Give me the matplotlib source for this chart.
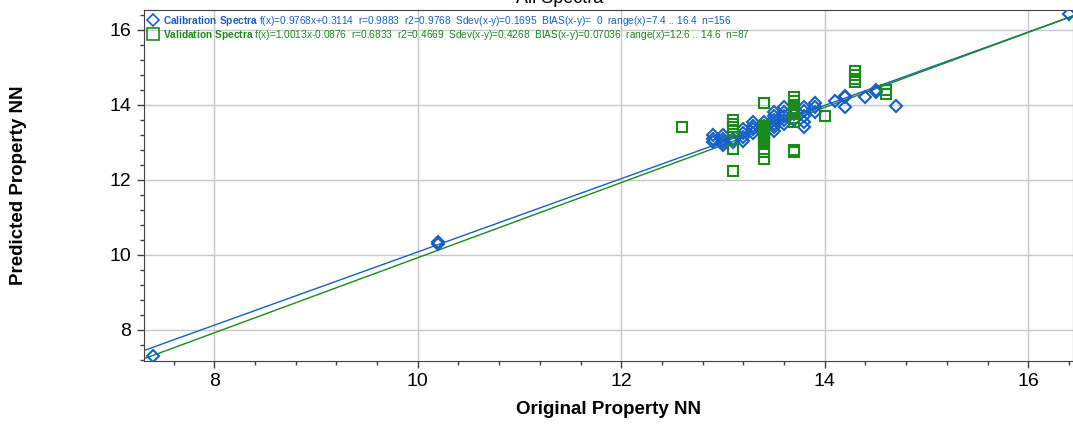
import numpy as np
import matplotlib.pyplot as plt
from matplotlib.ticker import MultipleLocator
from matplotlib.lines import Line2D

plt.rcParams['font.family'] = ['Liberation Sans', 'DejaVu Sans']
plt.rcParams['mathtext.fontset'] = 'custom'
plt.rcParams['mathtext.rm'] = 'Liberation Sans'
plt.rcParams['mathtext.bf'] = 'Liberation Sans:bold'

# Calibration spectra (original, predicted)
cal_x = [7.4, 10.2, 10.2, 16.4,
         12.9, 12.9, 12.9,
         13.0, 13.0, 13.0, 13.0,
         13.1, 13.1,
         13.2, 13.2, 13.2, 13.2,
         13.3, 13.3, 13.3, 13.3,
         13.4, 13.4, 13.4, 13.4,
         13.5, 13.5, 13.5, 13.5, 13.5, 13.5,
         13.6, 13.6, 13.6, 13.6, 13.6,
         13.7, 13.7, 13.7,
         13.8, 13.8, 13.8, 13.8, 13.8,
         13.9, 13.9, 13.9,
         14.1, 14.2, 14.2, 14.2, 14.4, 14.5, 14.5, 14.7]
cal_y = [7.3, 10.35, 10.3, 16.42,
         13.2, 13.1, 13.0,
         13.2, 13.1, 13.0, 12.92,
         13.1, 13.0,
         13.35, 13.25, 13.15, 13.05,
         13.55, 13.45, 13.35, 13.25,
         13.55, 13.45, 13.35, 13.25,
         13.8, 13.7, 13.6, 13.5, 13.4, 13.3,
         13.95, 13.8, 13.7, 13.6, 13.5,
         13.9, 13.75, 13.6,
         13.95, 13.85, 13.7, 13.55, 13.42,
         14.05, 13.95, 13.8,
         14.1, 14.25, 14.2, 13.95, 14.22, 14.4, 14.35, 13.97]

# Validation spectra (original, predicted)
val_x = [12.6,
         13.1, 13.1, 13.1, 13.1, 13.1, 13.1,
         13.4, 13.4, 13.4, 13.4, 13.4, 13.4, 13.4, 13.4, 13.4, 13.4, 13.4, 13.4, 13.4, 13.4,
         13.7, 13.7, 13.7, 13.7, 13.7, 13.7, 13.7, 13.7, 13.7, 13.7,
         14.0,
         14.3, 14.3, 14.3, 14.3,
         14.6, 14.6]
val_y = [13.4,
         13.6, 13.5, 13.4, 13.3, 12.83, 12.25,
         14.05, 13.45, 13.4, 13.35, 13.3, 13.25, 13.2, 13.15, 13.1, 13.05, 13.0, 12.95, 12.75, 12.55,
         14.2, 14.1, 14.0, 13.9, 13.8, 13.75, 13.65, 13.55, 12.8, 12.75,
         13.7,
         14.9, 14.8, 14.7, 14.6,
         14.4, 14.3]

# fit coefficients from the legend (slope, intercept)
cal_fit = (0.9768, 0.3114)
val_fit = (1.0013, -0.0876)

cal_label = (r'$\bf{Calibration\ Spectra}$ f(x)=0.9768x+0.3114  r=0.9883  r2=0.9768  '
             'Sdev(x-y)=0.1695  BIAS(x-y)=  0  range(x)=7.4 .. 16.4  n=156')
val_label = (r'$\bf{Validation\ Spectra}$ f(x)=1.0013x-0.0876  r=0.6833  r2=0.4669  '
             'Sdev(x-y)=0.4268  BIAS(x-y)=0.07036  range(x)=12.6 .. 14.6  n=87')

blue = '#1560c8'
green = '#1a8a1a'

fig = plt.figure(figsize=(10.73, 4.25), dpi=100)
ax = fig.add_axes([0.1342, 0.1513, 0.8658, 0.8252])

xlim = (7.31, 16.44)
ylim = (7.18, 16.53)

xl = np.array(xlim)
ax.plot(xl, cal_fit[0] * xl + cal_fit[1], color=blue, lw=1.0, zorder=2)
ax.plot(xl, val_fit[0] * xl + val_fit[1], color=green, lw=1.0, zorder=2)

ax.plot(cal_x, cal_y, 'D', ms=5.8, mfc='none', mec=blue, mew=1.5, zorder=3)
ax.plot(val_x, val_y, 's', ms=7.5, mfc='none', mec=green, mew=1.5, zorder=4)

ax.set_xlim(xlim)
ax.set_ylim(ylim)
ax.set_xticks([8, 10, 12, 14, 16])
ax.set_yticks([8, 10, 12, 14, 16])
ax.xaxis.set_minor_locator(MultipleLocator(0.4))
ax.yaxis.set_minor_locator(MultipleLocator(0.4))
ax.tick_params(which='major', direction='out', length=5, width=1, labelsize=14, pad=4, color='#404040')
ax.tick_params(which='minor', direction='out', length=3, width=1, color='#404040')
ax.grid(True, which='major', color='#c8c8c8', lw=1)
ax.set_axisbelow(True)
for s in ax.spines.values():
    s.set_color('#404040')

ax.set_xlabel('Original Property NN', fontsize=13.5, fontweight='bold', labelpad=8)
fig.text(0.017, 1 - 185 / 425, 'Predicted Property NN', rotation=90, ha='center', va='center',
         fontsize=13.5, fontweight='bold')
# title sits mostly above the picture, as in the source
fig.text(0.522, 1 - 3 / 425, 'All Spectra', ha='center', va='baseline', fontsize=13)

handles = [Line2D([], [], ls='none', marker='D', ms=6, mfc='none', mec=blue, mew=1.2),
           Line2D([], [], ls='none', marker='s', ms=8, mfc='none', mec=green, mew=1.2)]
leg = ax.legend(handles, [cal_label, val_label], loc='upper left', frameon=False,
                fontsize=7.3, handlelength=1.0, handletextpad=0.5, labelspacing=0.0,
                borderaxespad=0.2, borderpad=0.2)
for t, c in zip(leg.get_texts(), [blue, green]):
    t.set_color(c)

fig.savefig('out.png', dpi=100)
